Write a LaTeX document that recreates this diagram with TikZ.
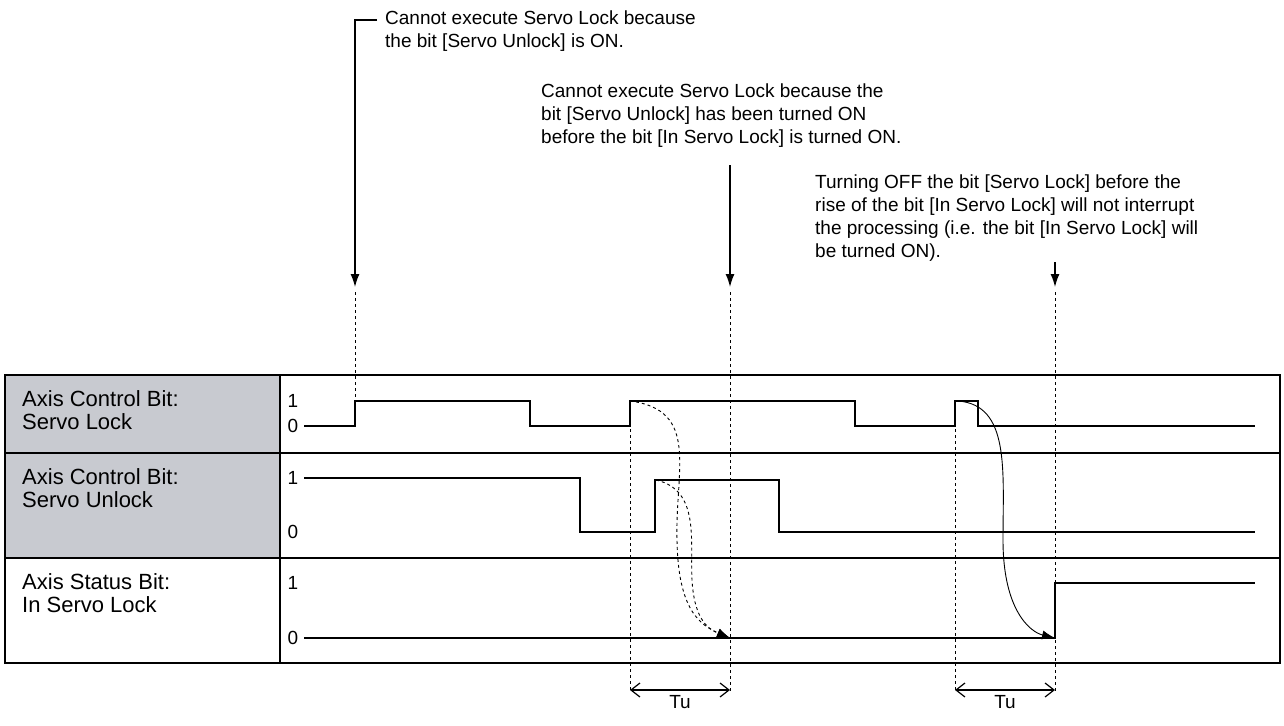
\documentclass[tikz,border=0pt]{standalone}
\usepackage{fontspec}
\setmainfont{Liberation Sans}
\usetikzlibrary{arrows.meta}
\begin{document}
\begin{tikzpicture}[x=1pt,y=-1pt,
  txt/.style={font=\fontsize{19}{23}\selectfont, align=left, inner sep=0pt},
  lab/.style={font=\fontsize{22}{23}\selectfont, align=left, anchor=north west, inner sep=0pt},
  num/.style={font=\fontsize{19}{20}\selectfont, inner sep=0pt},
  sig/.style={line width=1.4pt},
  guide/.style={dashed, line width=0.8pt},
  callarrow/.style={line width=1.3pt, -{Latex[length=13pt,width=9pt]}},
  cause/.style={line width=0.9pt, -{Latex[length=13pt,width=9pt]}},
  dim/.style={line width=1.2pt, {Straight Barb[length=9pt,width=14pt]}-{Straight Barb[length=9pt,width=14pt]}}]
\useasboundingbox (0,0) rectangle (1284,725);
% table
\fill[fill={rgb,255:red,200;green,202;blue,208}] (5,375) rectangle (280,558);
\draw[line width=1.4pt] (5,375) rectangle (1280,663);
\draw[line width=1.4pt] (5,453) -- (1280,453) (5,558) -- (1280,558) (280,375) -- (280,663);
\node[lab] (l1) at (22,390) {Axis Control Bit:\\Servo Lock};
\node[lab] (l2) at (22,468) {Axis Control Bit:\\Servo Unlock};
\node[lab] (l3) at (22,573) {Axis Status Bit:\\In Servo Lock};
\node[num] (a1) at (293,401) {1}; \node[num] (b1) at (293,426) {0};
\node[num] (a2) at (293,478) {1}; \node[num] (b2) at (293,532) {0};
\node[num] (a3) at (293,583) {1}; \node[num] (b3) at (293,638) {0};
% signals
\draw[sig] (304,426) -- (355,426) -- (355,401) -- (530,401) -- (530,426) -- (630,426) -- (630,401) -- (855,401) -- (855,426) -- (955,426) -- (955,401) -- (978,401) -- (978,426) -- (1255,426);
\draw[sig] (304,478) -- (580,478) -- (580,532) -- (655,532) -- (655,480) -- (779,480) -- (779,532) -- (1255,532);
\draw[sig] (304,638) -- (1055,638) -- (1055,583) -- (1255,583);
% guides
\coordinate (g1) at (355,292); \coordinate (g1b) at (355,426);
\coordinate (g2) at (630,405); \coordinate (g2b) at (630,692);
\coordinate (g3) at (730,292); \coordinate (g3b) at (730,692);
\coordinate (g4) at (955,405); \coordinate (g4b) at (955,692);
\coordinate (g5) at (1055,292); \coordinate (g5b) at (1055,692);
\draw[guide] (g1) -- (g1b) (g2) -- (g2b) (g3) -- (g3b) (g4) -- (g4b) (g5) -- (g5b);
% cause curves
\coordinate (c1) at (630,401); \coordinate (c2) at (656,480); \coordinate (e1) at (730,638);
\coordinate (c3) at (958,401); \coordinate (e2) at (1055,638);
\draw[cause,dashed] (c1) .. controls (700,410) and (675,470) .. (677,540) .. controls (678,610) and (700,625) .. (e1);
\draw[cause,dashed] (c2) .. controls (700,490) and (690,540) .. (692,580) .. controls (694,615) and (705,628) .. (e1);
\draw[cause] (c3) .. controls (1010,405) and (1003,470) .. (1003,540) .. controls (1003,610) and (1030,632) .. (e2);
% Tu
\draw[dim] (630,690) -- node[below=1pt, font=\fontsize{19}{20}\selectfont] (tu1) {Tu} (730,690);
\draw[dim] (955,690) -- node[below=1pt, font=\fontsize{19}{20}\selectfont] (tu2) {Tu} (1055,690);
% callouts
\node[txt, anchor=north west] (t1) at (385,11) {Cannot execute Servo Lock because\\the bit [Servo Unlock] is ON.};
\node[txt, anchor=north west] (t2) at (541,84) {Cannot execute Servo Lock because the\\bit [Servo Unlock] has been turned ON\\before the bit [In Servo Lock] is turned ON.};
\node[txt, anchor=north west] (t3) at (815,175) {Turning OFF the bit [Servo Lock] before the\\rise of the bit [In Servo Lock] will not interrupt\\the processing (i.e. the bit [In Servo Lock] will\\be turned ON).};
\coordinate (p1) at (377,20); \coordinate (q1) at (355,287);
\draw[callarrow] (p1) -- (355,20) -- (q1);
\coordinate (p2) at (730,165); \coordinate (q2) at (730,287);
\draw[callarrow] (p2) -- (q2);
\coordinate (p3) at (1055,262); \coordinate (q3) at (1055,287);
\draw[callarrow] (p3) -- (q3);
\end{tikzpicture}
\end{document}
